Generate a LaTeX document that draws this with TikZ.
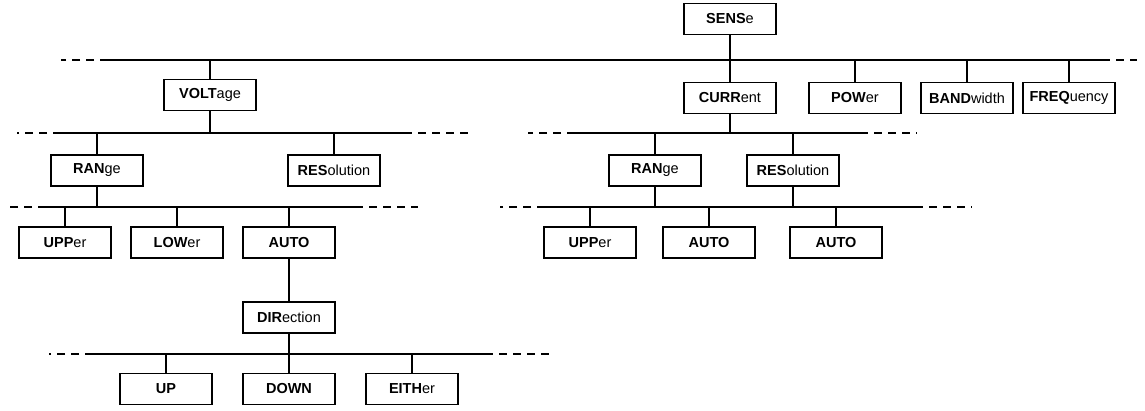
\documentclass[tikz,border=0pt]{standalone}
\usepackage{fontspec}
\setmainfont{Liberation Sans}
\newcommand{\kw}[2]{\textbf{#1}#2}
\begin{document}
\begin{tikzpicture}[x=1pt, y=-1pt,
        cmd/.style={draw, line width=1.3pt, minimum width=92pt, minimum height=31pt, inner sep=0pt, font=\fontsize{14.5}{16}\selectfont},
        bus/.style={line width=1.5pt},
        ext/.style={line width=1.5pt, dash pattern=on 8pt off 6pt, dash phase=8pt},
        link/.style={line width=1.8pt}]
    \useasboundingbox (0,0) rectangle (1145,410);

    % root and first level
    \node[cmd] (sense) at (730, 19) {\kw{SENS}{e}};
    \node[cmd] (voltage) at (210, 95) {\kw{VOLT}{age}};
    \node[cmd] (current) at (730, 98) {\kw{CURR}{ent}};
    \node[cmd] (power) at (855, 98) {\kw{POW}{er}};
    \node[cmd] (bandwidth) at (967, 98) {\kw{BAND}{width}};
    \node[cmd] (frequency) at (1069, 98) {\kw{FREQ}{uency}};

    % second level
    \node[cmd] (vrange) at (97, 170.5) {\kw{RAN}{ge}};
    \node[cmd] (vres) at (334, 170.5) {\kw{RES}{olution}};
    \node[cmd] (crange) at (655, 170.5) {\kw{RAN}{ge}};
    \node[cmd] (cres) at (793, 170.5) {\kw{RES}{olution}};

    % third level
    \node[cmd] (vupper) at (65, 242.5) {\kw{UPP}{er}};
    \node[cmd] (vlower) at (177, 242.5) {\kw{LOW}{er}};
    \node[cmd] (vauto) at (289, 242.5) {\kw{AUTO}{}};
    \node[cmd] (cupper) at (590, 242.5) {\kw{UPP}{er}};
    \node[cmd] (cauto) at (709, 242.5) {\kw{AUTO}{}};
    \node[cmd] (rauto) at (836, 242.5) {\kw{AUTO}{}};

    \node[cmd] (direction) at (289, 317.5) {\kw{DIR}{ection}};
    \node[cmd] (up) at (166, 389) {\kw{UP}{}};
    \node[cmd] (down) at (289, 389) {\kw{DOWN}{}};
    \node[cmd] (either) at (412, 389) {\kw{EITH}{er}};

    % bus lines
    \coordinate (top-l) at (100, 60);   \coordinate (top-r) at (1110, 60);
    \coordinate (vbus-l) at (53, 133);  \coordinate (vbus-r) at (412, 133);
    \coordinate (cbus-l) at (567, 133); \coordinate (cbus-r) at (868, 133);
    \coordinate (vrbus-l) at (38, 207); \coordinate (vrbus-r) at (363, 207);
    \coordinate (crbus-l) at (537, 207); \coordinate (crbus-r) at (923, 207);
    \coordinate (dbus-l) at (85, 354);  \coordinate (dbus-r) at (493, 354);

    \begin{scope}[bus]
        \draw (top-l) -- (top-r);
        \draw (vbus-l) -- (vbus-r);
        \draw (cbus-l) -- (cbus-r);
        \draw (vrbus-l) -- (vrbus-r);
        \draw (crbus-l) -- (crbus-r);
        \draw (dbus-l) -- (dbus-r);
    \end{scope}
    \begin{scope}[ext]
        \draw (top-l) -- ++(-39, 0);  \draw (top-r) -- ++(27, 0);
        \draw (vbus-l) -- ++(-36, 0); \draw (vbus-r) -- ++(56, 0);
        \draw (cbus-l) -- ++(-39, 0); \draw (cbus-r) -- ++(49, 0);
        \draw (vrbus-l) -- ++(-30, 0); \draw (vrbus-r) -- ++(55, 0);
        \draw (crbus-l) -- ++(-37, 0); \draw (crbus-r) -- ++(49, 0);
        \draw (dbus-l) -- ++(-36, 0); \draw (dbus-r) -- ++(57, 0);
    \end{scope}

    % links to the buses
    \begin{scope}[link]
        \draw (sense.south) -- (sense.south |- top-l);
        \draw (voltage.north) -- (voltage.north |- top-l);
        \draw (current.north) -- (current.north |- top-l);
        \draw (power.north) -- (power.north |- top-l);
        \draw (bandwidth.north) -- (bandwidth.north |- top-l);
        \draw (frequency.north) -- (frequency.north |- top-l);

        \draw (voltage.south) -- (voltage.south |- vbus-l);
        \draw (vrange.north) -- (vrange.north |- vbus-l);
        \draw (vres.north) -- (vres.north |- vbus-l);
        \draw (current.south) -- (current.south |- cbus-l);
        \draw (crange.north) -- (crange.north |- cbus-l);
        \draw (cres.north) -- (cres.north |- cbus-l);

        \draw (vrange.south) -- (vrange.south |- vrbus-l);
        \draw (vupper.north) -- (vupper.north |- vrbus-l);
        \draw (vlower.north) -- (vlower.north |- vrbus-l);
        \draw (vauto.north) -- (vauto.north |- vrbus-l);
        \draw (crange.south) -- (crange.south |- crbus-l);
        \draw (cres.south) -- (cres.south |- crbus-l);
        \draw (cupper.north) -- (cupper.north |- crbus-l);
        \draw (cauto.north) -- (cauto.north |- crbus-l);
        \draw (rauto.north) -- (rauto.north |- crbus-l);

        \draw (vauto.south) -- (direction.north);
        \draw (direction.south) -- (direction.south |- dbus-l);
        \draw (up.north) -- (up.north |- dbus-l);
        \draw (down.north) -- (down.north |- dbus-l);
        \draw (either.north) -- (either.north |- dbus-l);
    \end{scope}
\end{tikzpicture}
\end{document}
